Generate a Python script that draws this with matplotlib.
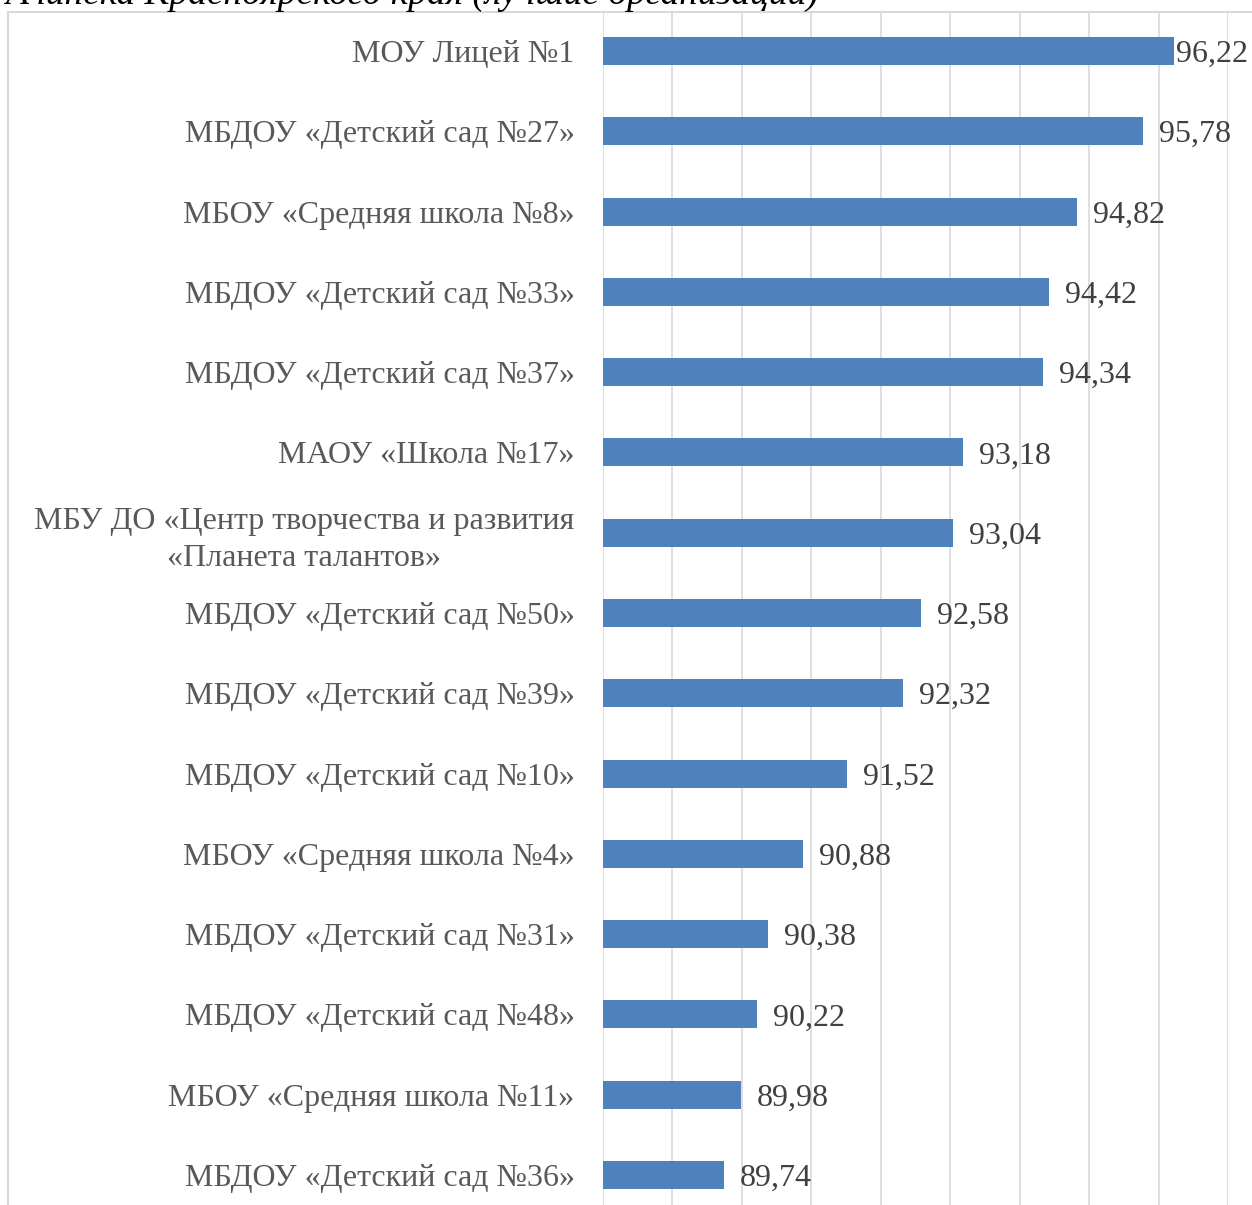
import matplotlib.pyplot as plt
from matplotlib.patches import Rectangle

# data
orgs = [
    'МОУ Лицей №1',
    'МБДОУ «Детский сад №27»',
    'МБОУ «Средняя школа №8»',
    'МБДОУ «Детский сад №33»',
    'МБДОУ «Детский сад №37»',
    'МАОУ «Школа №17»',
    'МБУ ДО «Центр творчества и развития\n«Планета талантов»',
    'МБДОУ «Детский сад №50»',
    'МБДОУ «Детский сад №39»',
    'МБДОУ «Детский сад №10»',
    'МБОУ «Средняя школа №4»',
    'МБДОУ «Детский сад №31»',
    'МБДОУ «Детский сад №48»',
    'МБОУ «Средняя школа №11»',
    'МБДОУ «Детский сад №36»',
]
scores = [96.22, 95.78, 94.82, 94.42, 94.34, 93.18, 93.04, 92.58,
          92.32, 91.52, 90.88, 90.38, 90.22, 89.98, 89.74]
title = 'Ачинска Красноярского края (лучшие организации)'

W, H = 1252, 1205
fig = plt.figure(figsize=(W / 100, H / 100), dpi=100)
ax = fig.add_axes([603 / W, 0, (1228 - 603) / W, 1 - 12 / H])

xmin, xmax = 88, 97
ypos = list(range(len(orgs)))
ax.barh(ypos, [s - xmin for s in scores], left=xmin, height=0.35,
        color='#4f81bd', zorder=3)

ax.set_xlim(xmin, xmax)
ax.set_ylim(len(orgs) - 1 + 30 / 80.3, -39 / 80.3)
ax.set_xticks(range(xmin, xmax + 1))
ax.tick_params(axis='x', bottom=False, labelbottom=False)
ax.grid(axis='x', color='#d9d9d9', linewidth=1.2, zorder=0)
for s in ax.spines.values():
    s.set_visible(False)

ax.set_yticks(ypos)
ax.set_yticklabels(orgs, fontfamily='Liberation Serif', fontsize=23,
                   color='#595959', multialignment='center',
                   linespacing=1.35)
ax.tick_params(axis='y', left=False, pad=17)

# value labels (the longest bar gets its label squeezed against the end)
for y, s in zip(ypos, scores):
    pad = 0.23 if s + 1.2 < xmax else 0.03
    ax.text(s + pad, y, f'{s:.2f}'.replace('.', ','), va='center_baseline',
            ha='left', fontfamily='Liberation Serif', fontsize=23,
            color='#404040', zorder=4)

# chart frame (cut off on right and bottom)
fig.patches.append(Rectangle((8 / W, -0.1), 1.2, 1 - 12 / H + 0.1,
                             transform=fig.transFigure, fill=False,
                             edgecolor='#d9d9d9', linewidth=1.5))

# caption above the chart, cut by the image edge
fig.text(5 / W, 1 - 4 / H, title, ha='left', va='baseline',
         fontfamily='Liberation Serif', fontstyle='italic', fontsize=27,
         color='black')

fig.savefig('out.png', dpi=100)
